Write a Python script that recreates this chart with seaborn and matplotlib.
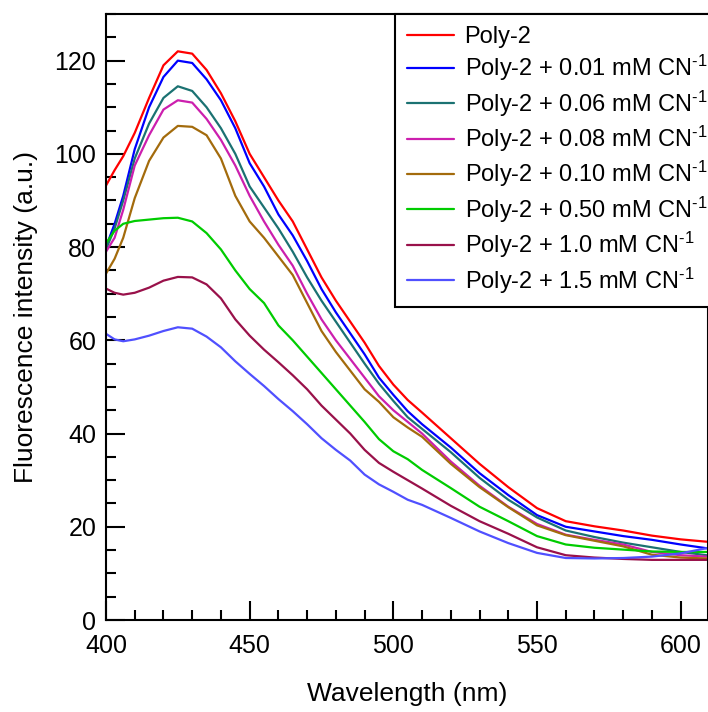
import pandas as pd
import seaborn as sns
import matplotlib.pyplot as plt
from matplotlib.ticker import MultipleLocator

# Wavelength grid (nm) shared by all spectra
wavelength = [400, 403, 406, 410, 415, 420, 425, 430, 435, 440, 445, 450, 455, 460,
              465, 470, 475, 480, 485, 490, 495, 500, 505, 510, 520, 530, 540, 550,
              560, 570, 580, 590, 600, 609]

poly2 = [93.2, 96.5, 99.5, 104.5, 112.0, 119.0, 122.0, 121.5, 118.0, 113.0, 107.0, 100.0,
         95.0, 90.0, 85.5, 79.5, 73.5, 68.5, 64.0, 59.5, 54.5, 50.5, 47.2, 44.5, 39.0,
         33.5, 28.5, 24.0, 21.2, 20.1, 19.2, 18.1, 17.3, 16.8]
cn_001 = [80.0, 85.0, 91.0, 101.0, 110.0, 116.5, 120.0, 119.5, 116.0, 111.5, 105.5, 98.0,
          93.0, 87.0, 82.5, 77.0, 71.0, 66.0, 61.5, 57.0, 52.0, 48.3, 44.8, 42.0, 37.0,
          31.5, 26.8, 22.5, 20.0, 19.0, 18.0, 17.2, 16.2, 15.4]
cn_006 = [79.5, 84.0, 90.0, 99.0, 106.5, 112.0, 114.5, 113.5, 110.0, 105.5, 100.0, 93.0,
          88.5, 84.0, 79.0, 73.5, 68.5, 64.0, 59.5, 55.0, 50.7, 47.0, 43.5, 41.0, 36.0,
          30.5, 25.8, 22.0, 19.2, 17.8, 16.6, 15.6, 14.6, 13.9]
cn_008 = [79.0, 82.0, 88.0, 97.5, 104.0, 109.5, 111.5, 111.0, 107.5, 103.0, 97.5, 91.0,
          85.5, 80.5, 76.0, 70.0, 64.5, 60.0, 56.0, 52.0, 48.0, 45.0, 42.5, 40.0, 34.0,
          28.8, 24.3, 20.6, 18.3, 17.2, 16.2, 14.6, 13.9, 13.6]
cn_010 = [74.3, 77.5, 82.0, 90.5, 98.5, 103.5, 106.0, 105.8, 104.0, 99.0, 91.0, 85.5,
          82.0, 78.0, 74.0, 68.0, 62.0, 57.5, 53.5, 49.5, 46.8, 43.5, 41.3, 39.3, 33.5,
          28.5, 24.2, 20.3, 18.2, 17.0, 15.8, 14.0, 13.4, 13.2]
cn_050 = [80.8, 83.5, 85.0, 85.6, 85.9, 86.2, 86.3, 85.5, 83.0, 79.5, 75.0, 71.0,
          68.0, 63.2, 60.0, 56.5, 53.0, 49.5, 46.0, 42.5, 38.8, 36.2, 34.5, 32.2, 28.3,
          24.3, 21.2, 18.0, 16.2, 15.5, 15.1, 14.7, 14.6, 14.6]
cn_10 = [71.1, 70.2, 69.8, 70.2, 71.3, 72.8, 73.6, 73.5, 72.0, 69.0, 64.5, 61.0,
         58.0, 55.3, 52.5, 49.5, 46.0, 43.0, 40.0, 36.5, 33.7, 31.8, 30.0, 28.2, 24.5,
         21.2, 18.5, 15.6, 13.9, 13.4, 13.1, 12.9, 12.9, 12.9]
cn_15 = [61.4, 60.2, 59.8, 60.2, 61.0, 62.0, 62.8, 62.5, 60.8, 58.5, 55.5, 52.8,
         50.2, 47.4, 44.8, 42.0, 39.0, 36.5, 34.2, 31.2, 29.1, 27.5, 25.8, 24.7, 21.9,
         19.0, 16.5, 14.4, 13.3, 13.2, 13.3, 13.6, 14.3, 15.4]

labels = ['Poly-2',
          'Poly-2 + 0.01 mM CN$^{\\text{-}1}$',
          'Poly-2 + 0.06 mM CN$^{\\text{-}1}$',
          'Poly-2 + 0.08 mM CN$^{\\text{-}1}$',
          'Poly-2 + 0.10 mM CN$^{\\text{-}1}$',
          'Poly-2 + 0.50 mM CN$^{\\text{-}1}$',
          'Poly-2 + 1.0 mM CN$^{\\text{-}1}$',
          'Poly-2 + 1.5 mM CN$^{\\text{-}1}$']
colors = ['#ff0000', '#0000ff', '#1b7272', '#cc1fae', '#a36b0c', '#00cc00', '#99114a', '#5050ff']
series = [poly2, cn_001, cn_006, cn_008, cn_010, cn_050, cn_10, cn_15]

# Tabla larga para seaborn
df = pd.concat([pd.DataFrame({'wl': wavelength, 'I': s, 'muestra': lab})
                for s, lab in zip(series, labels)], ignore_index=True)

sns.set_style('ticks')
plt.rcParams['font.family'] = ['Liberation Sans', 'DejaVu Sans']
plt.rcParams['mathtext.fontset'] = 'custom'
plt.rcParams['mathtext.rm'] = 'Liberation Sans'
plt.rcParams['mathtext.default'] = 'regular'
plt.rcParams['text.color'] = 'black'
plt.rcParams['axes.labelcolor'] = 'black'

fig = plt.figure(figsize=(7.08, 7.12), dpi=100)
ax = fig.add_axes([0.1497, 0.1292, 0.8503, 0.8511])

sns.lineplot(data=df, x='wl', y='I', hue='muestra', palette=dict(zip(labels, colors)),
             hue_order=labels, sort=False, linewidth=1.6, ax=ax)

ax.set_xlim(400, 609.5)
ax.set_ylim(0, 130)
ax.xaxis.set_major_locator(MultipleLocator(50))
ax.xaxis.set_minor_locator(MultipleLocator(10))
ax.yaxis.set_major_locator(MultipleLocator(20))
ax.yaxis.set_minor_locator(MultipleLocator(5))
ax.tick_params(which='major', direction='in', length=14, width=1.5, labelsize=18, pad=7,
               colors='black', labelcolor='black')
ax.tick_params(axis='x', which='major', pad=10)
ax.tick_params(which='minor', direction='in', length=7, width=1.5, colors='black')
for sp in ax.spines.values():
    sp.set_linewidth(1.5)
    sp.set_color('black')

ax.set_xlabel('Wavelength (nm)', fontsize=19, labelpad=17)
ax.set_ylabel('Fluorescence intensity (a.u.)', fontsize=19, labelpad=12)

leg = ax.legend(loc='upper left', bbox_to_anchor=(0.48, 1.0), borderaxespad=0,
                fontsize=17, frameon=True, fancybox=False, handlelength=2.0,
                handletextpad=0.45, labelspacing=0.22, borderpad=0.5)
leg.get_frame().set_edgecolor('black')
leg.get_frame().set_linewidth(1.5)
leg.get_frame().set_alpha(1)

fig.savefig('out.png', dpi=100)
